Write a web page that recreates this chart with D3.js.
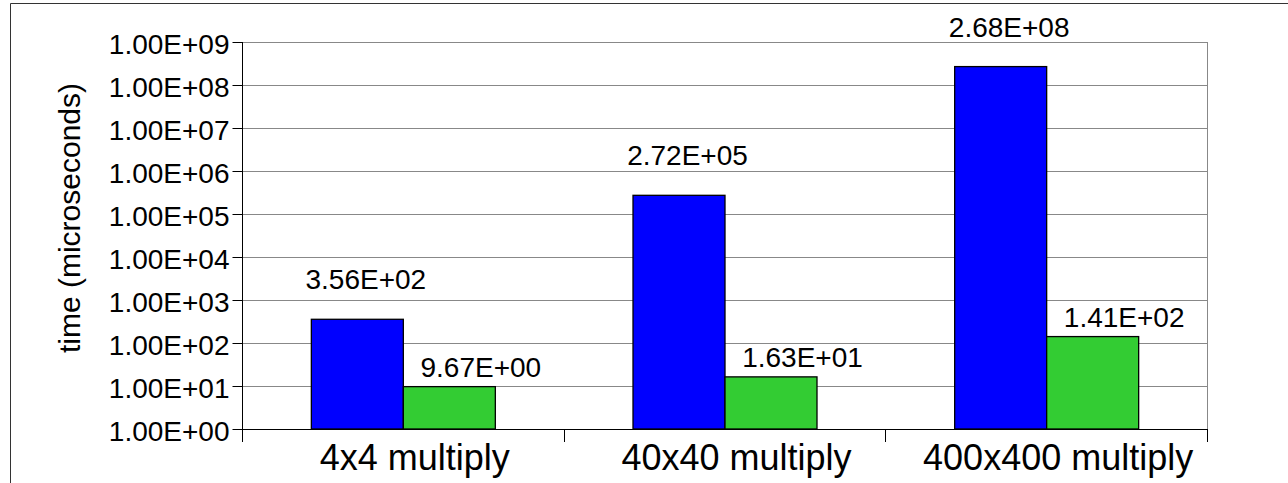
<!DOCTYPE html>
<html>
<head>
<meta charset="utf-8">
<script src="https://cdn.jsdelivr.net/npm/d3@7"></script>
<style>
  html, body { margin: 0; padding: 0; background: #fff; }
  svg { display: block; }
  text { font-family: "Liberation Sans", Arial, sans-serif; fill: #000; }
</style>
</head>
<body>
<svg id="chart" width="1288" height="483"></svg>
<script>
// Benchmark timings (microseconds) for two implementations
const categories = ["4x4 multiply", "40x40 multiply", "400x400 multiply"];
const seriesNames = ["first", "second"];
const firstTimes = [356, 272000, 268000000];
const secondTimes = [9.67, 16.3, 141];
const tickValues = [1e0, 1e1, 1e2, 1e3, 1e4, 1e5, 1e6, 1e7, 1e8, 1e9];
const yTitle = "time (microseconds)";

const colors = { first: "#0000ff", second: "#33cc33" };

// Scientific notation like 1.00E+09
function sci(v) {
  const parts = v.toExponential(2).split("e");
  const sign = parts[1][0];
  const digits = parts[1].slice(1).padStart(2, "0");
  return parts[0] + "E" + sign + digits;
}

const svg = d3.select("#chart");
const plot = { left: 242, right: 1207, top: 42, bottom: 429 };

// outer frame
svg.append("path")
  .attr("d", "M10.5,483 L10.5,3.5 L1288,3.5")
  .attr("fill", "none").attr("stroke", "#333").attr("stroke-width", 1);

const y = d3.scaleLog().domain([1, 1e9]).range([plot.bottom, plot.top]);
const x = d3.scaleBand().domain(categories)
  .range([plot.left, plot.right])
  .paddingInner(0.428).paddingOuter(0.214);
const xs = d3.scaleBand().domain(seriesNames).range([0, x.bandwidth()]);

// horizontal gridlines
svg.append("g").selectAll("line")
  .data(tickValues.slice(1))
  .join("line")
  .attr("x1", plot.left).attr("x2", plot.right)
  .attr("y1", d => Math.round(y(d)) + 0.5).attr("y2", d => Math.round(y(d)) + 0.5)
  .attr("stroke", "#888").attr("stroke-width", 1);

// right border of the plot area
svg.append("line")
  .attr("x1", plot.right + 0.5).attr("x2", plot.right + 0.5)
  .attr("y1", plot.top).attr("y2", plot.bottom)
  .attr("stroke", "#888");

// bars
const rows = categories.map((c, i) => ({ cat: c, values: [
  { key: "first", v: firstTimes[i] },
  { key: "second", v: secondTimes[i] }
]}));

const groups = svg.append("g").selectAll("g")
  .data(rows).join("g")
  .attr("transform", d => `translate(${x(d.cat)},0)`);

groups.selectAll("rect")
  .data(d => d.values).join("rect")
  .attr("x", d => Math.round(xs(d.key)) + 0.5)
  .attr("width", xs.bandwidth())
  .attr("y", d => y(d.v))
  .attr("height", d => y(1) - y(d.v))
  .attr("fill", d => colors[d.key])
  .attr("stroke", "#000").attr("stroke-width", 1.3);

// value labels above bars
const labelShift = { first: { dx: 9, dy: -30 }, second: { dx: 32, dy: -10 } };
groups.selectAll("text.val")
  .data(d => d.values).join("text")
  .attr("class", "val")
  .attr("x", d => xs(d.key) + xs.bandwidth() / 2 + labelShift[d.key].dx)
  .attr("y", d => y(d.v) + labelShift[d.key].dy)
  .attr("text-anchor", "middle")
  .style("font-size", "28px")
  .text(d => sci(d.v));

// y axis
const yAxis = svg.append("g")
  .attr("transform", `translate(${plot.left + 0.5},0)`)
  .call(d3.axisLeft(y).tickValues(tickValues).tickFormat(sci).tickSize(10).tickPadding(3).tickSizeOuter(0));
yAxis.select(".domain").remove();
yAxis.selectAll(".tick line").attr("stroke", "#000");
yAxis.selectAll(".tick text")
  .style("font-size", "28px")
  .attr("font-family", null)
  .attr("dy", "0.42em");
yAxis.append("line")
  .attr("x1", 0).attr("x2", 0)
  .attr("y1", plot.top).attr("y2", plot.bottom + 13)
  .attr("stroke", "#000");

// x axis baseline and category separators
svg.append("line")
  .attr("x1", plot.left).attr("x2", plot.right + 1)
  .attr("y1", plot.bottom + 0.5).attr("y2", plot.bottom + 0.5)
  .attr("stroke", "#000");
const seps = d3.range(categories.length + 1).map(i => plot.left + i * x.step());
svg.append("g").selectAll("line")
  .data(seps.slice(1)).join("line")
  .attr("x1", d => Math.round(d) + 0.5).attr("x2", d => Math.round(d) + 0.5)
  .attr("y1", plot.bottom).attr("y2", plot.bottom + 13)
  .attr("stroke", "#000");

// category labels
svg.append("g").selectAll("text")
  .data(categories).join("text")
  .attr("x", d => x(d) + x.bandwidth() / 2 + 12)
  .attr("y", 470)
  .attr("text-anchor", "middle")
  .style("font-size", "36px")
  .text(d => d);

// y axis title
svg.append("text")
  .attr("transform", "translate(80,218) rotate(-90)")
  .attr("text-anchor", "middle")
  .style("font-size", "30px")
  .text(yTitle);
</script>
</body>
</html>
